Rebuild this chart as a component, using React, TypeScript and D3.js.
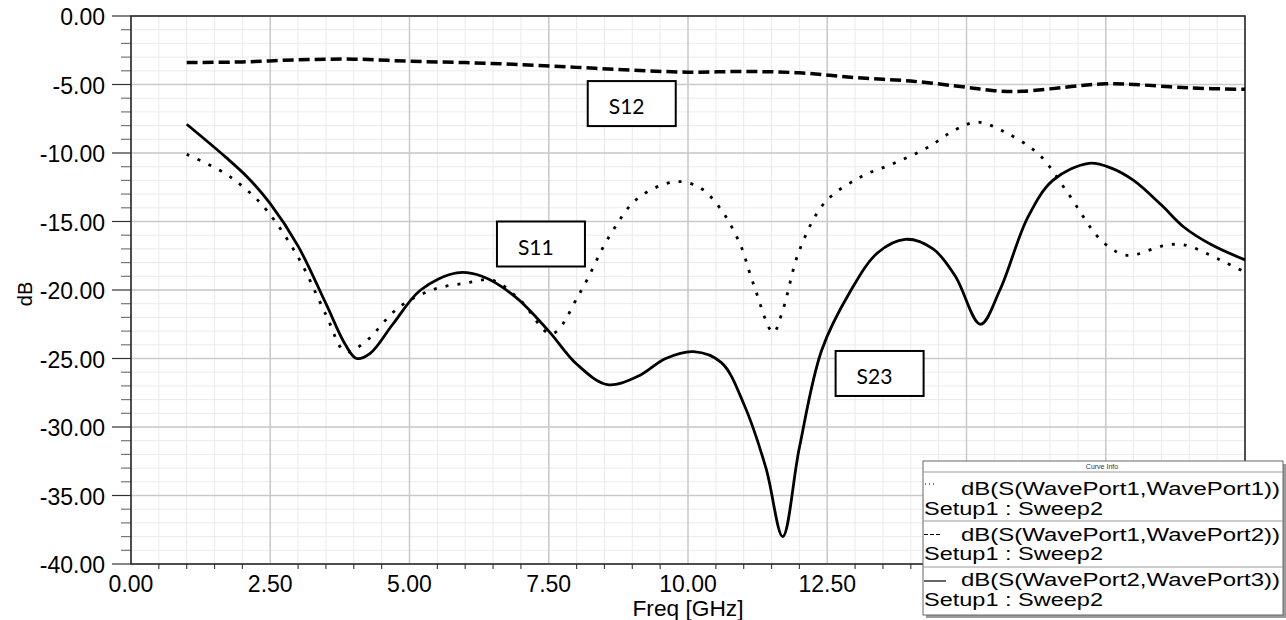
import * as d3 from "d3";

// frequency in GHz, magnitude in dB
const s11Freq = [1, 1.65, 2.08, 2.44, 3.0, 3.5, 3.85, 4.2, 4.8, 5.4, 6.0, 6.5, 7.0, 7.55, 8.06, 8.6, 9.1, 9.77, 10.2, 10.57, 10.93, 11.17, 11.53, 11.7, 12.0, 12.46, 13.1, 13.7, 14.3, 14.8, 15.2, 15.7, 16.3, 16.8, 17.4, 17.8, 18.05, 18.5, 18.9, 19.55, 20];
const s11Db = [-10.1, -11.4, -12.7, -14.2, -17.6, -21.8, -24.5, -23.8, -21.3, -20.0, -19.5, -19.3, -20.8, -23.2, -20.2, -16.0, -13.3, -12.1, -12.5, -14.0, -16.6, -19.5, -23.1, -21.5, -17.1, -13.6, -11.75, -10.75, -9.6, -8.3, -7.75, -8.5, -10.1, -12.8, -16.3, -17.4, -17.4, -16.8, -16.7, -17.8, -18.7];

const s12Freq = [1, 2, 3, 4, 5, 6, 7, 8, 9, 10, 11, 12, 13, 14, 15, 15.5, 16, 17, 17.5, 18, 19, 20];
const s12Db = [-3.4, -3.35, -3.2, -3.15, -3.3, -3.4, -3.55, -3.75, -3.95, -4.1, -4.05, -4.15, -4.5, -4.75, -5.2, -5.45, -5.5, -5.1, -4.95, -5.0, -5.25, -5.35];

const s23Freq = [1, 1.7, 2.1, 2.5, 3.0, 3.5, 3.85, 4.05, 4.3, 4.7, 5.2, 5.85, 6.3, 6.9, 7.5, 8.0, 8.55, 9.1, 9.6, 10.1, 10.6, 11.0, 11.4, 11.7, 12.0, 12.4, 12.9, 13.4, 13.9, 14.4, 14.8, 15.25, 15.6, 16.1, 16.55, 17.2, 17.6, 18.0, 18.5, 18.9, 19.4, 20];
const s23Db = [-7.9, -10.3, -11.8, -13.7, -16.8, -21.0, -24.0, -25.0, -24.6, -22.5, -20.0, -18.75, -19.0, -20.5, -23.0, -25.4, -26.9, -26.3, -25.0, -24.5, -25.3, -28.3, -33.0, -38.0, -31.5, -24.4, -20.2, -17.3, -16.3, -17.0, -19.0, -22.5, -20.0, -14.7, -12.0, -10.75, -11.1, -12.0, -13.8, -15.4, -16.7, -17.8];

const xMajorTicks = [0, 2.5, 5, 7.5, 10, 12.5, 15, 17.5, 20];
// labels past 12.50 sit under the curve-info box
const xTickLabels = [0, 2.5, 5, 7.5, 10, 12.5];
const yMajorTicks = [0, -5, -10, -15, -20, -25, -30, -35, -40];

const labels = [
  { text: "S12", f: 8.2, db: -4.75 },
  { text: "S11", f: 6.57, db: -15.0 },
  { text: "S23", f: 12.65, db: -24.45 },
];

const legendRows = [
  { name: "dB(S(WavePort1,WavePort1))", style: "dot" },
  { name: "dB(S(WavePort1,WavePort2))", style: "dash" },
  { name: "dB(S(WavePort2,WavePort3))", style: "solid" },
];

const W = 1286;
const H = 620;
const left = 131, right = 1245, top = 16, bottom = 564;

export default function App() {
  const x = d3.scaleLinear().domain([0, 20]).range([left, right]);
  const y = d3.scaleLinear().domain([0, -40]).range([top, bottom]);

  const xMinor = d3.range(0, 20.01, 0.5);
  const yMinor = d3.range(0, -40.01, -1);

  const line = (fs: number[], vs: number[]) =>
    d3.line<number>()
      .x((_, i) => x(fs[i]))
      .y((v) => y(v))
      .curve(d3.curveCatmullRom.alpha(0.5))(vs) as string;

  const font = "'Liberation Sans', Arial, sans-serif";

  return (
    <svg width={W} height={H} style={{ position: "absolute", left: 0, top: 0, background: "#fff" }}>
      {/* minor grid */}
      {xMinor.map((f) => (
        <line key={"xm" + f} x1={x(f)} x2={x(f)} y1={top} y2={bottom} stroke="#ebebeb" strokeWidth={1} />
      ))}
      {yMinor.map((v) => (
        <line key={"ym" + v} x1={left} x2={right} y1={y(v)} y2={y(v)} stroke="#ebebeb" strokeWidth={1} />
      ))}
      {/* major grid */}
      {xMajorTicks.map((f) => (
        <line key={"xM" + f} x1={x(f)} x2={x(f)} y1={top} y2={bottom} stroke="#c9c9c9" strokeWidth={1.5} />
      ))}
      {yMajorTicks.map((v) => (
        <line key={"yM" + v} x1={left} x2={right} y1={y(v)} y2={y(v)} stroke="#c9c9c9" strokeWidth={1.5} />
      ))}

      {/* y ticks */}
      {yMinor.map((v) => (
        <line key={"yt" + v} x1={v % 5 === 0 ? left - 19 : left - 10} x2={left} y1={y(v)} y2={y(v)}
          stroke={v % 5 === 0 ? "#333" : "#777"} strokeWidth={1.2} />
      ))}
      {/* x ticks */}
      {xMinor.filter((f) => f % 2.5 !== 0).map((f) => (
        <line key={"xt" + f} x1={x(f)} x2={x(f)} y1={bottom} y2={bottom + 5} stroke="#444" strokeWidth={1.2} />
      ))}

      {/* frame */}
      <rect x={left} y={top} width={right - left} height={bottom - top} fill="none" stroke="#222" strokeWidth={1.5} />

      {/* tick labels */}
      {yMajorTicks.map((v) => (
        <text key={"yl" + v} x={105} y={y(v) + 9} textAnchor="end" fontFamily={font} fontSize={23} fill="#000">
          {v.toFixed(2)}
        </text>
      ))}
      {xTickLabels.map((f) => (
        <text key={"xl" + f} x={x(f)} y={592} textAnchor="middle" fontFamily={font} fontSize={23} fill="#000">
          {f.toFixed(2)}
        </text>
      ))}
      <text x={x(10)} y={616} textAnchor="middle" fontFamily={font} fontSize={22} textLength={111} lengthAdjust="spacingAndGlyphs" fill="#000">Freq [GHz]</text>
      <text transform={`translate(32,294) rotate(-90)`} textAnchor="middle" fontFamily={font} fontSize={20} fill="#000">dB</text>

      {/* curves */}
      <path d={line(s12Freq, s12Db)} fill="none" stroke="#000" strokeWidth={3.5} strokeDasharray="11 5" />
      <path d={line(s11Freq, s11Db)} fill="none" stroke="#000" strokeWidth={2.8} strokeDasharray="3 9" />
      <path d={line(s23Freq, s23Db)} fill="none" stroke="#000" strokeWidth={2.8} />

      {/* curve labels */}
      {labels.map((l) => (
        <g key={l.text} transform={`translate(${x(l.f)},${y(l.db)})`}>
          <rect x={0} y={0} width={88} height={45} fill="#fff" stroke="#000" strokeWidth={2} />
          <text x={21} y={33} fontFamily="Lato, 'Open Sans', sans-serif" fontSize={21} fill="#000">{l.text}</text>
        </g>
      ))}

      {/* legend */}
      <g>
        <rect x={926} y={464} width={360} height={154} fill="#9a9a9a" />
        <rect x={923} y={461} width={360} height={154} fill="#fff" stroke="#666" strokeWidth={1} />
        <text x={1102} y={469} textAnchor="middle" fontFamily={font} fontSize={7} fill="#333">Curve Info</text>
        <line x1={923} x2={1283} y1={472} y2={472} stroke="#999" strokeWidth={1} />
        <line x1={923} x2={1283} y1={521} y2={521} stroke="#999" strokeWidth={1} />
        <line x1={923} x2={1283} y1={567} y2={567} stroke="#999" strokeWidth={1} />
        {legendRows.map((r, i) => {
          const base = 495 + i * 45.5;
          return (
            <g key={r.name}>
              {r.style === "dot" && (
                <line x1={925} x2={936} y1={base - 11} y2={base - 11} stroke="#000" strokeWidth={1} strokeDasharray="1 3" />
              )}
              {r.style === "dash" && (
                <line x1={924} x2={940} y1={base - 6} y2={base - 6} stroke="#000" strokeWidth={1} strokeDasharray="4 2" />
              )}
              {r.style === "solid" && (
                <line x1={924} x2={946} y1={base - 5} y2={base - 5} stroke="#000" strokeWidth={1.2} />
              )}
              <text x={961} y={base} fontFamily={font} fontSize={17.5} textLength={319} lengthAdjust="spacingAndGlyphs" fill="#000">
                {r.name}
              </text>
              <text x={924} y={base + 19.5} fontFamily={font} fontSize={17.5} textLength={179} lengthAdjust="spacingAndGlyphs" fill="#000">
                Setup1 : Sweep2
              </text>
            </g>
          );
        })}
      </g>
    </svg>
  );
}
